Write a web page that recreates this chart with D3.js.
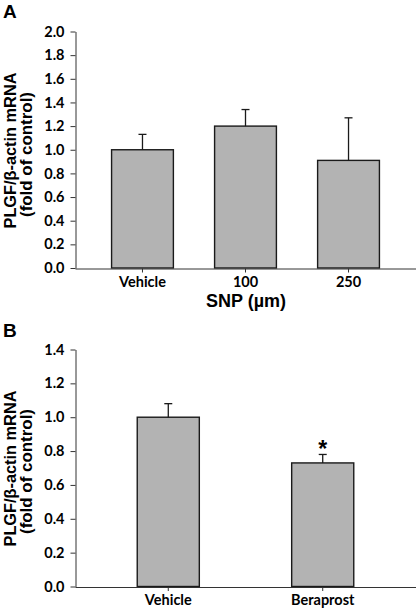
<!DOCTYPE html>
<html>
<head>
<meta charset="utf-8">
<script src="https://cdn.jsdelivr.net/npm/d3@7"></script>
<style>
  html, body { margin: 0; padding: 0; background: #fff; }
  svg { display: block; }
</style>
</head>
<body>
<svg id="chart" width="416" height="609"></svg>
<script>
// Panel A data
const categoriesA = ["Vehicle", "100", "250"];
const valuesA = [1.0, 1.2, 0.91];
const errorsA = [0.13, 0.14, 0.36];
const yTicksA = [0, 0.2, 0.4, 0.6, 0.8, 1.0, 1.2, 1.4, 1.6, 1.8, 2.0];

// Panel B data
const categoriesB = ["Vehicle", "Beraprost"];
const valuesB = [1.0, 0.73];
const errorsB = [0.08, 0.05];
const yTicksB = [0, 0.2, 0.4, 0.6, 0.8, 1.0, 1.2, 1.4];
const significantB = [false, true];

const svg = d3.select("#chart");
const tickFont = "Lato, 'Open Sans', sans-serif";
const labelFont = "'Liberation Sans', Arial, sans-serif";
const barFill = "#b3b3b3";
const ink = "#1a1a1a";

function panel(opts) {
  const {cats, vals, errs, ticks, yMax, top, bottom, pInner, pOuter, letter, letterY, xTitle, labelCenter, stars} = opts;
  const left = 75.5, right = 416;
  const x = d3.scaleBand().domain(cats).range([75, right]).paddingInner(pInner).paddingOuter(pOuter);
  const y = d3.scaleLinear().domain([0, yMax]).range([bottom, top]);
  const g = svg.append("g");

  // bars
  g.selectAll("rect.bar").data(cats).enter().append("rect")
    .attr("x", d => x(d)).attr("width", x.bandwidth())
    .attr("y", (d, i) => y(vals[i])).attr("height", (d, i) => y(0) - y(vals[i]))
    .attr("fill", barFill).attr("stroke", ink).attr("stroke-width", 1.4);

  // error bars
  cats.forEach((c, i) => {
    const cx = x(c) + x.bandwidth() / 2;
    g.append("line").attr("x1", cx).attr("x2", cx)
      .attr("y1", y(vals[i])).attr("y2", y(vals[i] + errs[i]))
      .attr("stroke", ink).attr("stroke-width", 1.3);
    g.append("line").attr("x1", cx - 4).attr("x2", cx + 4)
      .attr("y1", y(vals[i] + errs[i])).attr("y2", y(vals[i] + errs[i]))
      .attr("stroke", ink).attr("stroke-width", 1.3);
    if (stars && stars[i]) {
      g.append("text").attr("x", cx).attr("y", y(vals[i] + errs[i]) + 3)
        .attr("text-anchor", "middle").attr("font-family", labelFont)
        .attr("font-weight", "bold").attr("font-size", 23).attr("fill", "#000").text("*");
    }
  });

  // y axis
  const yAxis = g.append("g").attr("transform", `translate(${left},0)`)
    .call(d3.axisLeft(y).tickValues(ticks).tickFormat(d3.format(".1f")).tickSize(5).tickSizeOuter(0));
  yAxis.select(".domain").attr("stroke", "#333");
  yAxis.selectAll(".tick line").attr("stroke", "#333");
  yAxis.selectAll(".tick text").attr("x", -11).attr("font-family", tickFont)
    .attr("font-weight", "bold").attr("font-size", 14.5).attr("fill", "#000");

  // x axis
  const xAxis = g.append("g").attr("transform", `translate(0,${bottom + 0.5})`)
    .call(d3.axisBottom(x).tickSize(4).tickSizeOuter(0));
  xAxis.select(".domain").attr("stroke", "#333");
  xAxis.selectAll(".tick line").attr("stroke", "#333");
  xAxis.selectAll(".tick text").attr("y", 8).attr("font-family", tickFont)
    .attr("font-weight", "bold").attr("font-size", 14.5).attr("fill", "#000");

  // panel letter
  g.append("text").attr("x", 3).attr("y", letterY).attr("font-family", labelFont)
    .attr("font-weight", "bold").attr("font-size", 19).attr("fill", "#000").text(letter);

  // y title
  g.append("text").attr("transform", `translate(16,${labelCenter[0]}) rotate(-90)`)
    .attr("text-anchor", "middle").attr("font-family", labelFont)
    .attr("font-weight", "bold").attr("font-size", 17).attr("fill", "#000")
    .attr("textLength", 156).attr("lengthAdjust", "spacingAndGlyphs")
    .text("PLGF/β-actin mRNA");
  g.append("text").attr("transform", `translate(31.5,${labelCenter[1]}) rotate(-90)`)
    .attr("text-anchor", "middle").attr("font-family", labelFont)
    .attr("font-weight", "bold").attr("font-size", 17).attr("fill", "#000")
    .attr("textLength", 125).attr("lengthAdjust", "spacingAndGlyphs")
    .text("(fold of control)");

  if (xTitle) {
    g.append("text").attr("x", 246).attr("y", bottom + 39).attr("text-anchor", "middle")
      .attr("font-family", labelFont).attr("font-weight", "bold").attr("font-size", 18)
      .attr("fill", "#000").text(xTitle);
  }
}

panel({cats: categoriesA, vals: valuesA, errs: errorsA, ticks: yTicksA, yMax: 2.0,
  top: 31.5, bottom: 268, pInner: 0.4, pOuter: 0.355, letter: "A", letterY: 18,
  xTitle: "SNP (µm)", labelCenter: [150.5, 154.5]});

panel({cats: categoriesB, vals: valuesB, errs: errorsB, ticks: yTicksB, yMax: 1.4,
  top: 349.5, bottom: 586.5, pInner: 0.598, pOuter: 0.403, letter: "B", letterY: 337,
  xTitle: null, labelCenter: [468.5, 471.5], stars: significantB});
</script>
</body>
</html>
